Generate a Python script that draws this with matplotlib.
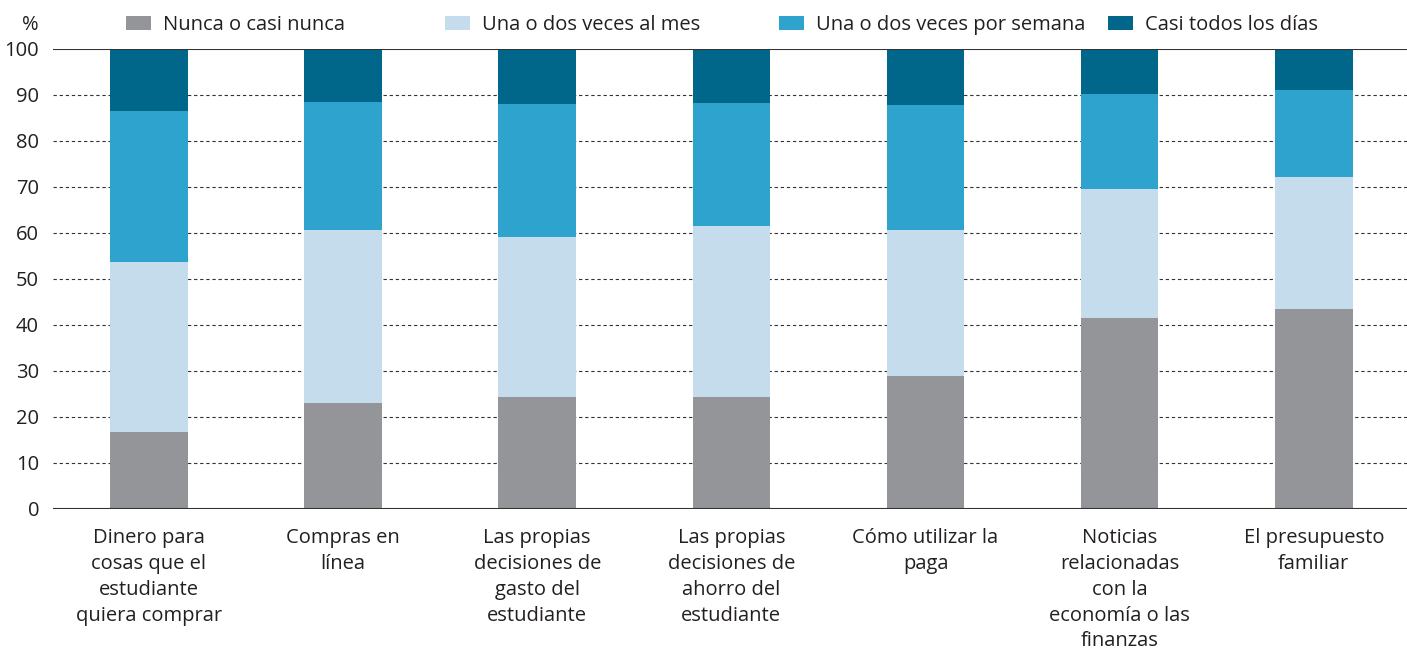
import matplotlib.pyplot as plt
import numpy as np

plt.rcParams['font.family'] = ['Open Sans', 'DejaVu Sans']

categories = [
    "Dinero para\ncosas que el\nestudiante\nquiera comprar",
    "Compras en\nlínea",
    "Las propias\ndecisiones de\ngasto del\nestudiante",
    "Las propias\ndecisiones de\nahorro del\nestudiante",
    "Cómo utilizar la\npaga",
    "Noticias\nrelacionadas\ncon la\neconomía o las\nfinanzas",
    "El presupuesto\nfamiliar",
]
series_names = ["Nunca o casi nunca", "Una o dos veces al mes",
                "Una o dos veces por semana", "Casi todos los días"]
nunca = [16.7, 23.0, 24.3, 24.3, 28.9, 41.5, 43.5]
mes = [37.0, 37.7, 34.8, 37.2, 31.8, 28.1, 28.7]
semana = [32.8, 27.8, 28.9, 26.8, 27.1, 20.6, 18.9]
dias = [13.5, 11.5, 12.0, 11.7, 12.2, 9.8, 8.9]
colors = ["#939598", "#c5dced", "#2ea3cd", "#00678b"]

fig = plt.figure(figsize=(14.07, 6.52), dpi=100)
ax = fig.add_axes([53 / 1407, 1 - 509 / 652, 1 - 53 / 1407, 460 / 652])

x = np.arange(len(categories))
bottom = np.zeros(len(categories))
handles = []
for vals, name, c in zip([nunca, mes, semana, dias], series_names, colors):
    b = ax.bar(x, vals, 0.4, bottom=bottom, color=c, label=name, zorder=3)
    handles.append(b)
    bottom += np.array(vals)

ax.set_ylim(0, 100)
ax.set_xlim(-0.494, 6.48)
ax.set_yticks(range(0, 101, 10))
for y in range(10, 100, 10):
    ax.axhline(y, color="#333333", lw=0.8, ls=(0, (3, 2.5)), zorder=1)
ax.axhline(100, color="#333333", lw=1.5, zorder=4)
ax.axhline(0, color="#333333", lw=1.5, zorder=4)
for s in ax.spines.values():
    s.set_visible(False)
ax.tick_params(axis='both', length=0, labelsize=14.5, colors="#231f20")
ax.tick_params(axis='y', pad=10)
ax.tick_params(axis='x', pad=14)
ax.set_xticks(x)
ax.set_xticklabels(categories, linespacing=1.38)

fig.text(30 / 1407, 1 - 25 / 652, "%", fontsize=14.5, color="#231f20",
         ha='center', va='center')

# legend entries at fixed positions, as in the original
leg_x = [126, 445, 779, 1108]
for h, name, lx in zip(handles, series_names, leg_x):
    fig.legend(handles=[h], labels=[name], loc='center left', frameon=False,
               bbox_to_anchor=(lx / 1407, 1 - 25 / 652), fontsize=14.5,
               handlelength=1.25, handleheight=0.72, handletextpad=0.6,
               borderaxespad=0, borderpad=0, labelcolor="#231f20")

fig.savefig("out.png", dpi=100)
